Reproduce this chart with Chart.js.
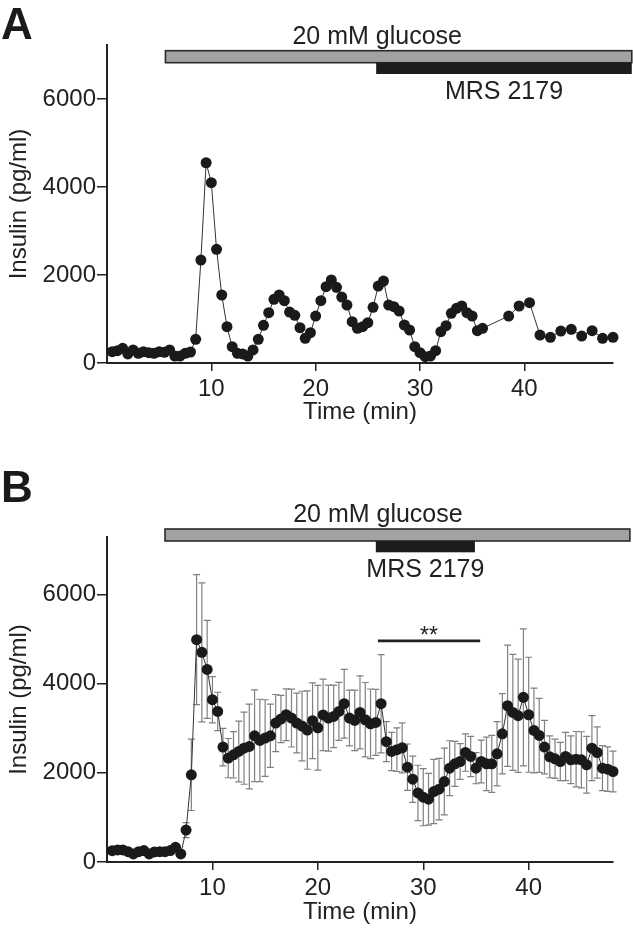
<!DOCTYPE html>
<html>
<head>
<meta charset="utf-8">
<script src="https://cdn.jsdelivr.net/npm/chart.js@4.4.1/dist/chart.umd.min.js"></script>
<style>
  body { margin: 0; background: #fff; }
  .panel { position: absolute; left: 0; }
  .tag { position: absolute; left: 1px; font: bold 44px 'Liberation Sans', Arial, sans-serif; line-height: 1; color: #1a1a1a; }
</style>
</head>
<body>
<canvas id="chartA" class="panel" width="633" height="460" style="top:0"></canvas>
<canvas id="chartB" class="panel" width="633" height="484" style="top:460px"></canvas>
<div class="tag" style="top:2px">A</div>
<div class="tag" style="top:465px">B</div>

<script>
// ---- panel A: single perifusion trace ----
const timeA = [0.5, 1, 1.5, 2, 2.5, 3, 3.5, 4, 4.5, 5, 5.5, 6, 6.5, 7, 7.5, 8,
    8.5, 9, 9.5, 10, 10.5, 11, 11.5, 12, 12.5, 13, 13.5, 14, 14.5, 15, 15.5, 16,
    16.5, 17, 17.5, 18, 18.5, 19, 19.5, 20, 20.5, 21, 21.5, 22, 22.5, 23, 23.5, 24,
    24.5, 25, 25.5, 26, 26.5, 27, 27.5, 28, 28.5, 29, 29.5, 30, 30.5, 31, 31.5, 32,
    32.5, 33, 33.5, 34, 34.5, 35, 35.5, 36,
    38.5, 39.5, 40.5, 41.5, 42.5, 43.5, 44.5, 45.5, 46.5, 47.5, 48.5];
const insulinA = [258, 280, 333, 205, 296, 220, 258, 235, 220, 258, 243, 296, 159, 159, 220, 250,
    538, 2341, 4553, 4099, 2584, 1546, 826, 371, 220, 205, 159, 296, 538, 856, 1144, 1447,
    1546, 1417, 1159, 1083, 803, 561, 690, 1068, 1417, 1735, 1887, 1720, 1500, 1318, 940, 788,
    826, 917, 1265, 1750, 1864, 1318, 1281, 1182, 864, 750, 371, 235, 144, 159, 280, 712,
    849, 1129, 1243, 1296, 1144, 1068, 735, 788,
    1068, 1296, 1371, 636, 583, 727, 765, 613, 735, 560, 583];

// ---- panel B: mean +/- SEM ----
const timeB = [0.5, 1, 1.5, 2, 2.5, 3, 3.5, 4, 4.5, 5, 5.5, 6, 6.5, 7, 7.5, 8,
    8.5, 9, 9.5, 10, 10.5, 11, 11.5, 12, 12.5, 13, 13.5, 14, 14.5, 15, 15.5, 16,
    16.5, 17, 17.5, 18, 18.5, 19, 19.5, 20, 20.5, 21, 21.5, 22, 22.5, 23, 23.5, 24,
    24.5, 25, 25.5, 26, 26.5, 27, 27.5, 28, 28.5, 29, 29.5, 30, 30.5, 31, 31.5, 32,
    32.5, 33, 33.5, 34, 34.5, 35, 35.5, 36, 36.5, 37, 37.5, 38, 38.5, 39, 39.5, 40,
    40.5, 41, 41.5, 42, 42.5, 43, 43.5, 44, 44.5, 45, 45.5, 46, 46.5, 47, 47.5, 48];
const insulinB = [254, 270, 270, 232, 180, 232, 257, 180, 225, 232, 232, 257, 330, 180, 715, 1955,
    4988, 4703, 4320, 3640, 3378, 2577, 2330, 2404, 2479, 2554, 2592, 2831, 2726, 2779, 2831, 3117,
    3206, 3303, 3229, 3117, 3050, 2960, 3170, 3010, 3300, 3229, 3266, 3378, 3550, 3229, 3176, 3356,
    3191, 3101, 3131, 3550, 2700, 2479, 2520, 2560, 2127, 1857, 1550, 1453, 1408, 1580, 1633, 1805,
    2105, 2202, 2254, 2456, 2367, 2105, 2254, 2202, 2202, 2427, 2876, 3505, 3356, 3281, 3693, 3303,
    2950, 2840, 2577, 2360, 2314, 2254, 2367, 2292, 2307, 2292, 2180, 2554, 2456, 2105, 2082, 2030];
const semB = [40, 40, 40, 40, 40, 40, 40, 40, 40, 40, 40, 40, 60, 60, 170, 800,
    1460, 1560, 1100, 520, 430, 420, 440, 520, 680, 810, 950, 1030, 925, 860, 710, 640,
    530, 580, 650, 670, 780, 880, 850, 950, 800, 740, 700, 650, 770, 625, 680, 820,
    835, 780, 740, 1100, 450, 430, 490, 560, 520, 520, 620, 640, 580, 720, 690, 750,
    615, 505, 400, 420, 450, 350, 480, 600, 640, 720, 900, 1360, 1300, 1270, 1535, 1290,
    950, 830, 600, 470, 440, 430, 540, 535, 620, 630, 636, 730, 575, 505, 500, 455];

// treatment periods (min)
const glucoseA = [5.6, 50.3];
const mrsA = [25.8, 50.3];
const glucoseB = [5.5, 49.6];
const mrsB = [25.5, 34.9];
const sigB = [25.7, 35.4];   // ** bracket
const sigLevelB = 4960;

const xTicks = [10, 20, 30, 40];
const yTicks = [0, 2000, 4000, 6000];

const FONT = "'Liberation Sans', Arial, sans-serif";
const INK = '#222';

function errorBars(err) {
    return {
        id: 'errorBars',
        beforeDatasetsDraw(chart) {
            const { ctx, scales: { x, y } } = chart;
            const pts = chart.data.datasets[0].data;
            ctx.save();
            ctx.strokeStyle = '#808080';
            ctx.lineWidth = 1.2;
            pts.forEach((p, i) => {
                const px = x.getPixelForValue(p.x);
                const top = y.getPixelForValue(p.y + err[i]);
                const bot = y.getPixelForValue(p.y - err[i]);
                ctx.beginPath();
                ctx.moveTo(px, top); ctx.lineTo(px, bot);
                ctx.moveTo(px - 3.5, top); ctx.lineTo(px + 3.5, top);
                ctx.moveTo(px - 3.5, bot); ctx.lineTo(px + 3.5, bot);
                ctx.stroke();
            });
            ctx.restore();
        }
    };
}

// grey glucose bar, black MRS 2179 bar, their labels, optional ** bracket
function treatments(cfg) {
    return {
        id: 'treatments',
        afterDraw(chart) {
            const { ctx, chartArea: ca, scales: { x, y } } = chart;
            const W = chart.width;
            ctx.save();

            const gx0 = x.getPixelForValue(cfg.glucose[0]);
            const gx1 = Math.min(x.getPixelForValue(cfg.glucose[1]), W - 1);
            const gy = ca.top + cfg.barTop;
            ctx.fillStyle = '#a2a2a2';
            ctx.fillRect(gx0, gy, gx1 - gx0, cfg.barH);
            ctx.strokeStyle = '#2a2a2a';
            ctx.lineWidth = 1.6;
            ctx.strokeRect(gx0, gy, gx1 - gx0, cfg.barH);

            const mx0 = x.getPixelForValue(cfg.mrs[0]);
            const mx1 = Math.min(x.getPixelForValue(cfg.mrs[1]), W);
            const my = gy + cfg.barH;
            ctx.fillStyle = '#1c1c1c';
            ctx.fillRect(mx0, my, mx1 - mx0, cfg.mrsH);

            ctx.fillStyle = INK;
            ctx.textAlign = 'center';
            ctx.textBaseline = 'alphabetic';
            ctx.font = '25px ' + FONT;
            ctx.fillText('20 mM glucose', x.getPixelForValue(cfg.glucoseLabelAt), gy - 7);
            ctx.fillText('MRS 2179', (mx0 + mx1) / 2, my + cfg.mrsH + 25);

            if (cfg.sig) {
                const sy = y.getPixelForValue(cfg.sigLevel);
                const sx0 = x.getPixelForValue(cfg.sig[0]);
                const sx1 = x.getPixelForValue(cfg.sig[1]);
                ctx.strokeStyle = INK;
                ctx.lineWidth = 2.6;
                ctx.beginPath();
                ctx.moveTo(sx0, sy); ctx.lineTo(sx1, sy);
                ctx.stroke();
                ctx.font = '23px ' + FONT;
                ctx.fillText('**', (sx0 + sx1) / 2, sy + 2);
            }
            ctx.restore();
        }
    };
}

function makeChart(id, p) {
    const pts = p.t.map((t, i) => ({ x: t, y: p.v[i] }));
    const plugins = [treatments(p.ann)];
    if (p.err) plugins.unshift(errorBars(p.err));

    return new Chart(document.getElementById(id), {
        type: 'scatter',
        data: {
            datasets: [{
                data: pts,
                showLine: true,
                borderColor: '#333',
                borderWidth: 1,
                pointRadius: 5.5,
                pointHoverRadius: 5.5,
                pointBackgroundColor: '#1a1a1a',
                pointBorderWidth: 0,
                clip: false
            }]
        },
        options: {
            responsive: false,
            animation: false,
            events: [],
            layout: { padding: { top: p.top, right: 20, left: 0, bottom: 0 } },
            plugins: { legend: { display: false }, tooltip: { enabled: false } },
            scales: {
                x: {
                    type: 'linear',
                    min: 0,
                    max: p.xMax,
                    afterBuildTicks: s => { s.ticks = xTicks.map(v => ({ value: v })); },
                    afterFit: s => { s.height = p.xAxisH; },
                    grid: { drawOnChartArea: false, drawTicks: true, tickLength: 8, color: INK, lineWidth: 1.5 },
                    border: { display: true, color: INK, width: 2 },
                    ticks: { color: INK, font: { family: FONT, size: 24 }, padding: 4, maxRotation: 0 },
                    title: { display: true, text: 'Time (min)', color: INK, font: { family: FONT, size: 24 },
                             padding: { top: 0, bottom: p.xTitlePad } }
                },
                y: {
                    min: 0,
                    max: p.yMax,
                    afterBuildTicks: s => { s.ticks = yTicks.map(v => ({ value: v })); },
                    afterFit: s => { s.width = 107; },
                    grid: { drawOnChartArea: false, drawTicks: true, tickLength: 10, color: INK, lineWidth: 1.5 },
                    border: { display: true, color: INK, width: 2 },
                    ticks: { color: INK, font: { family: FONT, size: 24 }, padding: 1, callback: v => String(v) },
                    title: { display: true, text: 'Insulin (pg/ml)', color: INK, font: { family: FONT, size: 24 },
                             padding: { top: 5, bottom: 0 } }
                }
            }
        },
        plugins: plugins
    });
}

makeChart('chartA', {
    t: timeA, v: insulinA, xMax: 48.5, yMax: 7230, top: 45, xAxisH: 97, xTitlePad: 33,
    ann: { glucose: glucoseA, mrs: mrsA, glucoseLabelAt: 25.9, barTop: 5.7, barH: 12, mrsH: 11.3 }
});

makeChart('chartB', {
    t: timeB, v: insulinB, err: semB, xMax: 48, yMax: 7290, top: 77, xAxisH: 82, xTitlePad: 17,
    ann: { glucose: glucoseB, mrs: mrsB, glucoseLabelAt: 25.7, barTop: -8, barH: 12, mrsH: 11.3,
           sig: sigB, sigLevel: sigLevelB }
});
</script>
</body>
</html>
